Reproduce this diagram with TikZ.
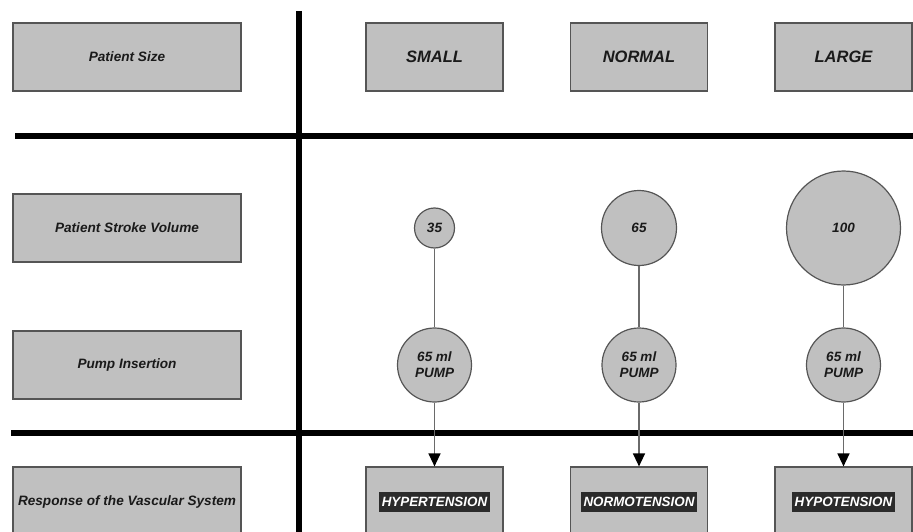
\documentclass[tikz,border=0pt]{standalone}
\usepackage{fontspec}
\setmainfont{Liberation Sans}
\usetikzlibrary{arrows.meta}
\definecolor{boxgray}{HTML}{C0C0C0}
\definecolor{edgegray}{HTML}{555555}
\definecolor{linegray}{HTML}{6A6A6A}
\definecolor{txt}{HTML}{1A1A1A}
\definecolor{tagbg}{HTML}{2B2B2B}
\tikzset{
  lbox/.style={draw=edgegray, line width=1.2pt, fill=boxgray, minimum width=228pt, minimum height=68pt, inner sep=0pt, text=txt, font=\fontsize{13.6pt}{15pt}\selectfont\bfseries\itshape},
  cbox/.style={draw=edgegray, line width=1.2pt, fill=boxgray, minimum width=137pt, minimum height=68pt, inner sep=0pt, text=txt, font=\fontsize{16.5pt}{18pt}\selectfont\bfseries\itshape},
  rbox/.style={draw=edgegray, line width=1.2pt, fill=boxgray, minimum width=137pt, minimum height=70pt, inner sep=0pt},
  tag/.style={fill=tagbg, text=white, inner xsep=3pt, inner ysep=0pt, minimum height=20pt, font=\fontsize{13.4pt}{15pt}\selectfont\bfseries\itshape},
  vol/.style={circle, draw=edgegray, line width=1.2pt, fill=boxgray, inner sep=0pt, text=txt, align=center, font=\fontsize{13.5pt}{16pt}\selectfont\bfseries\itshape},
  thick rule/.style={line width=6pt, black},
  link/.style={draw=linegray, line width=1.4pt},
  flow/.style={draw=linegray, line width=1.4pt, -{Triangle[length=13pt, width=12pt, color=black]}}
}
\begin{document}
\begin{tikzpicture}[x=1pt, y=-1pt]
\useasboundingbox (0,0) rectangle (913,532);
\clip (0,0) rectangle (913,532);
% grid rules
\coordinate (vt) at (298.5,11);
\coordinate (vb) at (298.5,540);
\coordinate (h1l) at (15,136);
\coordinate (h1r) at (913,136);
\coordinate (h2l) at (11,433);
\coordinate (h2r) at (913,433);
\draw[thick rule] (vt) -- (vb);
\draw[thick rule] (h1l) -- (h1r);
\draw[thick rule] (h2l) -- (h2r);
% left column
\node[lbox] (ps)  at (127,57)  {Patient Size};
\node[lbox] (psv) at (127,228) {Patient Stroke Volume};
\node[lbox] (pi)  at (127,365) {Pump Insertion};
\node[lbox, minimum height=70pt] (rv) at (127,502) {Response of the Vascular System};
% size row
\node[cbox] (small)  at (434.5,57) {SMALL};
\node[cbox] (normal) at (639,57)   {NORMAL};
\node[cbox] (large)  at (843.5,57) {LARGE};
% stroke volumes
\node[vol, minimum size=40pt]  (sv1) at (434.5,228) {35};
\node[vol, minimum size=75pt]  (sv2) at (639,228)   {65};
\node[vol, minimum size=114pt] (sv3) at (843.5,228) {100};
% pumps
\node[vol, minimum size=74pt] (p1) at (434.5,365) {65 ml\\PUMP};
\node[vol, minimum size=74pt] (p2) at (639,365)   {65 ml\\PUMP};
\node[vol, minimum size=74pt] (p3) at (843.5,365) {65 ml\\PUMP};
% responses
\node[rbox] (r1) at (434.5,502) {};
\node[rbox] (r2) at (639,502)   {};
\node[rbox] (r3) at (843.5,502) {};
\node[tag] (t1) at (r1.center) {HYPERTENSION};
\node[tag] (t2) at (r2.center) {NORMOTENSION};
\node[tag] (t3) at (r3.center) {HYPOTENSION};
% connectors
\draw[link] (sv1) -- (p1);
\draw[link] (sv2) -- (p2);
\draw[link] (sv3) -- (p3);
\draw[flow] (p1) -- (r1);
\draw[flow] (p2) -- (r2);
\draw[flow] (p3) -- (r3);
\end{tikzpicture}
\end{document}
